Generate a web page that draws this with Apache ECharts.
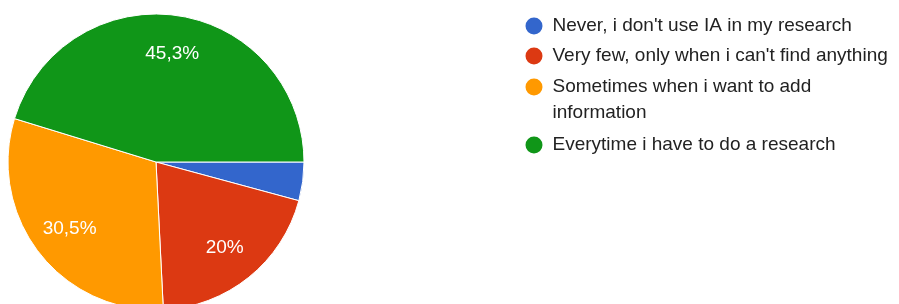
<!DOCTYPE html>
<html>
<head>
<meta charset="utf-8">
<script src="https://cdn.jsdelivr.net/npm/echarts@6/dist/echarts.min.js"></script>
<style>
  html, body { margin: 0; padding: 0; background: #fff; }
  #chart { width: 899px; height: 304px; }
</style>
</head>
<body>
<div id="chart"></div>
<script>
var answers = [
  "Never, i don't use IA in my research",
  "Very few, only when i can't find anything",
  "Sometimes when i want to add information",
  "Everytime i have to do a research"
];
var counts = [4, 19, 29, 43];
var colors = ['#3366cc', '#dc3912', '#ff9900', '#109618'];

var total = counts.reduce(function (a, b) { return a + b; }, 0);
var chart = echarts.init(document.getElementById('chart'));

var pieData = answers.map(function (name, i) {
  return { name: name, value: counts[i], itemStyle: { color: colors[i] } };
});

// one legend per answer; the wrapped one gets an empty first line so its dot
// sits next to "Sometimes" rather than between the two lines
var legendTops = [15.5, 45.5, 48, 134.5];
var legends = answers.map(function (name, i) {
  var item = { name: name, icon: 'circle' };
  if (i === 2) {
    item.textStyle = { lineHeight: 26 };
  }
  return {
    orient: 'vertical',
    left: 523.5,
    top: legendTops[i],
    padding: 0,
    itemWidth: 19,
    itemHeight: 19,
    selectedMode: false,
    data: [item],
    formatter: function (n) {
      return n === answers[2] ? '\nSometimes when i want to add\ninformation' : n;
    },
    textStyle: {
      fontFamily: 'Liberation Sans',
      fontSize: 19,
      lineHeight: 19,
      color: '#222222',
      padding: [0, 0, 0, 4]
    }
  };
});

chart.setOption({
  animation: false,
  legend: legends,
  series: [
    {
      type: 'pie',
      center: [156, 162],
      radius: 148,
      startAngle: 0,
      clockwise: true,
      label: { show: false },
      labelLine: { show: false },
      itemStyle: { borderColor: '#ffffff', borderWidth: 1 },
      emphasis: { disabled: true },
      data: pieData
    },
    {
      // transparent ring that only carries the percentage labels
      type: 'pie',
      center: [156, 162],
      radius: [65, 148],
      startAngle: 0,
      clockwise: true,
      silent: true,
      legendHoverLink: false,
      itemStyle: { color: 'rgba(0,0,0,0)' },
      emphasis: { disabled: true },
      label: {
        show: true,
        position: 'inside',
        fontFamily: 'Liberation Sans',
        fontSize: 19,
        color: '#ffffff',
        formatter: function (p) {
          if (p.percent < 5) return '';
          var s = (p.value / total * 100).toFixed(1);
          return s.replace(/\.0$/, '').replace('.', ',') + '%';
        }
      },
      labelLine: { show: false },
      data: answers.map(function (name, i) {
        return { name: name, value: counts[i] };
      })
    }
  ]
});
</script>
</body>
</html>
